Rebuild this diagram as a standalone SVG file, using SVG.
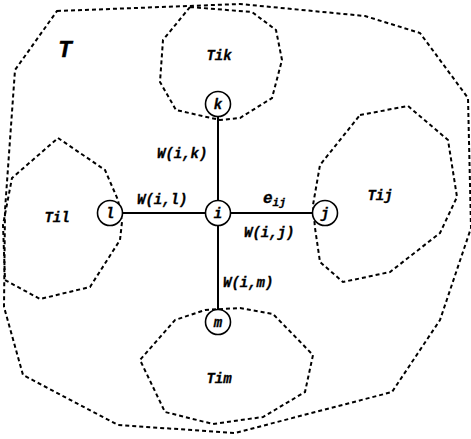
<svg xmlns="http://www.w3.org/2000/svg" width="471" height="439" viewBox="0 0 471 439">
  <style>
    .region { fill: none; stroke: #000; stroke-width: 2; stroke-dasharray: 4 3; }
    .edge { stroke: #000; stroke-width: 2; }
    .node circle { fill: #fff; stroke: #000; stroke-width: 1.6; }
    .lbl { font-family: "Liberation Mono", "Courier New", monospace; font-weight: bold; font-style: italic; fill: #000; stroke: #000; stroke-width: 0.3; }
    .nl { font-size: 14px; text-anchor: middle; }
    .wl { font-size: 14px; }
    .tl { font-size: 14px; text-anchor: middle; }
  </style>
  <rect width="471" height="439" fill="#fff"/>

  <!-- subtree regions -->
  <g id="region-T">
    <polygon class="region" points="57,11 240,4 365,16 420,33 468,98 471,228 440,320 392,392 235,433 118,425 23,375 4,307 5,210 15,70"/>
    <text class="lbl" x="65" y="57" font-size="24" font-family="Liberation Serif, serif" text-anchor="middle">T</text>
  </g>
  <g id="region-Tik">
    <polygon class="region" points="190,7 252,12 276,30 282,60 272,98 240,118 220,120 176,110 160,82 163,40"/>
    <text class="lbl tl" x="219" y="60">Tik</text>
  </g>
  <g id="region-Til">
    <polygon class="region" points="58,138 105,170 118,200 122,222 120,240 90,287 40,299 5,280 3,225 12,178"/>
    <text class="lbl tl" x="57" y="222">Til</text>
  </g>
  <g id="region-Tij">
    <polygon class="region" points="360,115 408,106 448,140 457,197 440,233 390,272 343,282 320,262 315,228 313,205 320,165"/>
    <text class="lbl tl" x="380" y="200">Tij</text>
  </g>
  <g id="region-Tim">
    <polygon class="region" points="205,310 240,308 273,314 313,355 305,392 263,417 213,424 165,412 140,360 175,320"/>
    <text class="lbl tl" x="219" y="383">Tim</text>
  </g>

  <!-- edges -->
  <g id="edges">
    <line class="edge" x1="218" y1="104" x2="218" y2="322"/>
    <line class="edge" x1="110" y1="213" x2="325" y2="213"/>
    <text class="lbl wl" x="157" y="158">W(i,k)</text>
    <text class="lbl wl" x="137" y="204">W(i,l)</text>
    <text class="lbl wl" x="244" y="237">W(i,j)</text>
    <text class="lbl wl" x="223" y="287">W(i,m)</text>
    <text class="lbl" x="263" y="203" font-size="16">e<tspan font-size="11" dy="3">ij</tspan></text>
  </g>

  <!-- vertices -->
  <g id="node-i" class="node"><circle cx="218" cy="213" r="12.5"/><text class="lbl nl" x="218" y="217.5">i</text></g>
  <g id="node-k" class="node"><circle cx="218" cy="104" r="12.5"/><text class="lbl nl" x="218" y="108.5">k</text></g>
  <g id="node-l" class="node"><circle cx="110" cy="213" r="12.5"/><text class="lbl nl" x="110" y="217.5">l</text></g>
  <g id="node-j" class="node"><circle cx="325" cy="213" r="12.5"/><text class="lbl nl" x="325" y="217.5">j</text></g>
  <g id="node-m" class="node"><circle cx="218" cy="322" r="12.5"/><text class="lbl nl" x="218" y="326.5">m</text></g>
</svg>
